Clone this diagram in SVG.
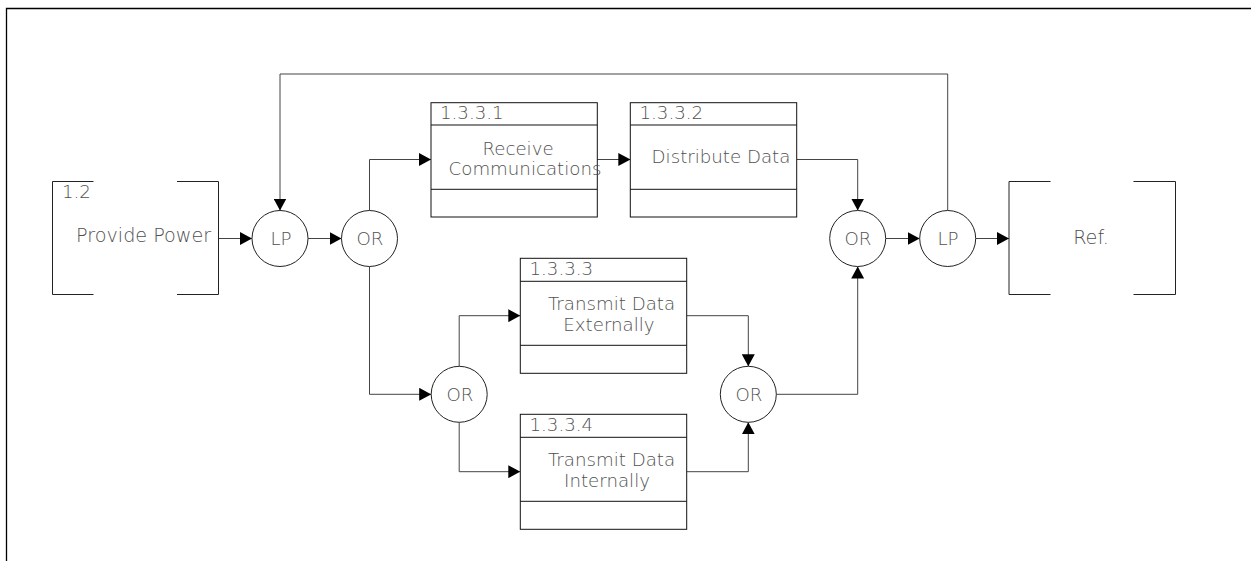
<svg xmlns="http://www.w3.org/2000/svg" width="1251" height="561" viewBox="0 0 1251 561">
<style>
.frame{fill:none;stroke:#000;stroke-width:1.3}
.box{fill:#fff;stroke:#111;stroke-width:1}
.div{stroke:#111;stroke-width:1}
.br{fill:none;stroke:#222;stroke-width:1}
.circ{fill:#fff;stroke:#222;stroke-width:1}
.t{font-family:"DejaVu Sans",sans-serif;font-size:18.2px;font-weight:200;fill:#505050}
.big{font-size:19.2px}
.m{text-anchor:middle}
.con{fill:none;stroke:#444;stroke-width:1}
</style>
<defs>
<marker id="ah" viewBox="0 0 12 13" refX="12" refY="6.5" markerWidth="12" markerHeight="13" markerUnits="userSpaceOnUse" orient="auto">
<path d="M0,0 L12,6.5 L0,13 Z" fill="#000"/>
</marker>
</defs>
<rect width="1251" height="561" fill="#fff"/>
<path class="frame" d="M6.5,561 V8.5 H1251"/>

<g id="connectors">
<path class="con" d="M218,238.5 H252" marker-end="url(#ah)"/>
<path class="con" d="M308,238.5 H341.5" marker-end="url(#ah)"/>
<path class="con" d="M947.7,210.5 V74 H280 V210.5" marker-end="url(#ah)"/>
<path class="con" d="M369.5,210.5 V159.5 H431" marker-end="url(#ah)"/>
<path class="con" d="M597,159.5 H630.3" marker-end="url(#ah)"/>
<path class="con" d="M796.7,159.5 H857.7 V210.5" marker-end="url(#ah)"/>
<path class="con" d="M885.7,238.5 H919.7" marker-end="url(#ah)"/>
<path class="con" d="M975.7,238.5 H1009" marker-end="url(#ah)"/>
<path class="con" d="M369.5,266.5 V394.3 H431.2" marker-end="url(#ah)"/>
<path class="con" d="M459.2,366.3 V315.7 H520.3" marker-end="url(#ah)"/>
<path class="con" d="M459.2,422.3 V471.7 H520.3" marker-end="url(#ah)"/>
<path class="con" d="M686.7,315.7 H748.3 V366.3" marker-end="url(#ah)"/>
<path class="con" d="M686.7,471.7 H748.3 V422.3" marker-end="url(#ah)"/>
<path class="con" d="M776.3,394.3 H857.7 V266.5" marker-end="url(#ah)"/>
</g>

<g id="n12">
<path class="br" d="M93.5,181.5 H52.5 V294.5 H93.5 M177,181.5 H218.5 V294.5 H177"/>
<text class="t" x="62" y="198">1.2</text>
<text class="t big" x="76" y="242">Provide Power</text>
</g>

<g id="lp1">
<circle class="circ" cx="280" cy="238.5" r="28"/>
<text class="t m" x="281" y="245">LP</text>
</g>

<g id="or1">
<circle class="circ" cx="369.5" cy="238.5" r="28"/>
<text class="t m" x="370" y="245">OR</text>
</g>

<g id="n1331">
<rect class="box" x="431" y="102.7" width="166.3" height="114.3"/>
<line class="div" x1="431" y1="125" x2="597.3" y2="125"/>
<line class="div" x1="431" y1="189.3" x2="597.3" y2="189.3"/>
<text class="t" x="440" y="119.3">1.3.3.1</text>
<text class="t m" x="518" y="155">Receive</text>
<text class="t m" x="525" y="175">Communications</text>
</g>

<g id="n1332">
<rect class="box" x="630.3" y="102.7" width="166.4" height="114.3"/>
<line class="div" x1="630.3" y1="125" x2="796.7" y2="125"/>
<line class="div" x1="630.3" y1="189.3" x2="796.7" y2="189.3"/>
<text class="t" x="639.5" y="119.3">1.3.3.2</text>
<text class="t m" x="721" y="162.7">Distribute Data</text>
</g>

<g id="or2">
<circle class="circ" cx="857.7" cy="238.5" r="28"/>
<text class="t m" x="858" y="245">OR</text>
</g>

<g id="lp2">
<circle class="circ" cx="947.7" cy="238.5" r="28"/>
<text class="t m" x="948" y="245">LP</text>
</g>

<g id="ref">
<path class="br" d="M1050.5,181.5 H1009 V294.5 H1050.5 M1133.5,181.5 H1175.5 V294.5 H1133.5"/>
<text class="t big m" x="1091" y="244.3">Ref.</text>
</g>

<g id="or3">
<circle class="circ" cx="459.2" cy="394.3" r="28"/>
<text class="t m" x="460" y="401">OR</text>
</g>

<g id="n1333">
<rect class="box" x="520.3" y="258.3" width="166.4" height="115"/>
<line class="div" x1="520.3" y1="281.3" x2="686.7" y2="281.3"/>
<line class="div" x1="520.3" y1="345.3" x2="686.7" y2="345.3"/>
<text class="t" x="529.5" y="275">1.3.3.3</text>
<text class="t m" x="611.5" y="310">Transmit Data</text>
<text class="t m" x="609" y="330.5">Externally</text>
</g>

<g id="n1334">
<rect class="box" x="520.3" y="414.3" width="166.4" height="115"/>
<line class="div" x1="520.3" y1="437.3" x2="686.7" y2="437.3"/>
<line class="div" x1="520.3" y1="501.3" x2="686.7" y2="501.3"/>
<text class="t" x="529.5" y="431">1.3.3.4</text>
<text class="t m" x="611.5" y="466">Transmit Data</text>
<text class="t m" x="607" y="486.5">Internally</text>
</g>

<g id="or4">
<circle class="circ" cx="748.3" cy="394.3" r="28"/>
<text class="t m" x="749" y="401">OR</text>
</g>
</svg>
